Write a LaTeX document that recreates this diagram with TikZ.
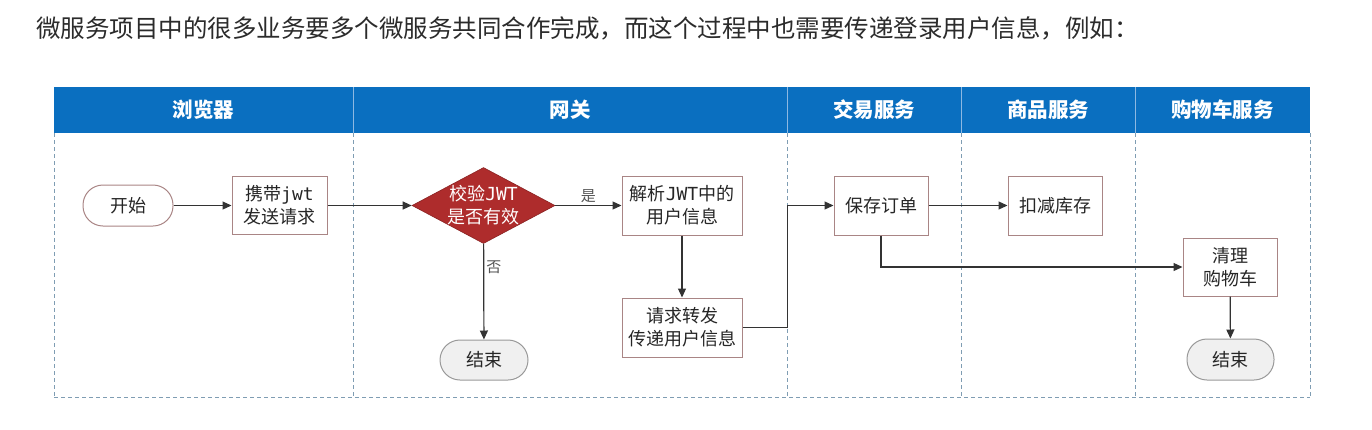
\documentclass[tikz,border=0pt]{standalone}
\usepackage{fontspec}
\setmainfont{Noto Sans CJK SC}
\newfontfamily\monof{DejaVu Sans Mono}
\usetikzlibrary{arrows.meta,shapes.geometric}
\definecolor{hdrblue}{HTML}{0A6FC0}
\definecolor{hdrline}{HTML}{8DB8E2}
\definecolor{lanec}{HTML}{7F9DB3}
\definecolor{boxc}{HTML}{A98585}
\definecolor{linec}{HTML}{333333}
\definecolor{chkred}{HTML}{AE2C2C}
\definecolor{titlec}{HTML}{2B2B2B}
\definecolor{lblc}{HTML}{555555}
\begin{document}
\begin{tikzpicture}[x=1pt,y=-1pt,
  lane/.style={draw=lanec, line width=1pt, dash pattern=on 4pt off 3pt},
  hdrsep/.style={draw=hdrline, line width=1pt},
  hdrtext/.style={text=white, font=\fontsize{20.5}{24}\selectfont\bfseries},
  nodetext/.style={font=\fontsize{18}{23}\selectfont, text=black!85, align=center, inner sep=0pt},
  box/.style={nodetext, draw=boxc, line width=1pt, fill=white, rectangle},
  startend/.style={nodetext, draw=boxc, line width=1pt, fill=white, rounded corners=20pt},
  endnode/.style={nodetext, draw=gray!80, line width=1pt, fill=black!6, rounded corners=20pt},
  conn/.style={draw=linec, line width=1.2pt, -{Triangle[length=9pt,width=8pt]}},
  lbl/.style={font=\fontsize{15}{18}\selectfont, text=lblc, inner sep=2pt}
]
\useasboundingbox (0,0) rectangle (1372,429);

% title
\node[anchor=west, inner sep=0pt, text=titlec, font=\fontsize{24.5}{30}\selectfont] (title) at (36,28)
  {微服务项目中的很多业务要多个微服务共同合作完成，而这个过程中也需要传递登录用户信息，例如：};

% header band
\fill[hdrblue] (54,87) rectangle (1310,133);
\foreach \x in {353,787,961,1135} \draw[hdrsep] (\x,87) -- (\x,133);
\node[hdrtext] (h1) at (203.5,110) {浏览器};
\node[hdrtext] (h2) at (570,110) {网关};
\node[hdrtext] (h3) at (874,110) {交易服务};
\node[hdrtext] (h4) at (1048,110) {商品服务};
\node[hdrtext] (h5) at (1222.5,110) {购物车服务};

% lanes
\foreach \x in {54,353,787,961,1135,1310} \draw[lane] (\x,133) -- (\x,397);
\draw[lane] (54,397) -- (1310,397);

% nodes
\node[startend, minimum width=90pt, minimum height=41pt] (start) at (128,205.5) {开始};
\node[box, minimum width=95pt, minimum height=58pt] (send) at (279.5,205.5) {携带{\monof jwt}\\发送请求};
\node[diamond, fill=chkred, draw=chkred!80!black, line width=0.6pt, minimum width=143pt, minimum height=76pt, inner sep=0pt] (chk) at (483.5,205.5) {};
\node[nodetext, text=white] (chkt) at (chk.center) {校验{\monof JWT}\\是否有效};
\node[box, minimum width=120pt, minimum height=59pt] (parse) at (682,205.5) {解析{\monof JWT}中的\\用户信息};
\node[box, minimum width=120pt, minimum height=59pt] (fwd) at (682,327.5) {请求转发\\传递用户信息};
\node[endnode, minimum width=88pt, minimum height=40pt] (end1) at (484,360) {结束};
\node[box, minimum width=94pt, minimum height=59pt] (save) at (881,205.5) {保存订单};
\node[box, minimum width=94pt, minimum height=59pt] (stock) at (1055,205.5) {扣减库存};
\node[box, minimum width=94pt, minimum height=58pt] (cart) at (1230,267) {清理\\购物车};
\node[endnode, minimum width=87pt, minimum height=41pt] (end2) at (1230.5,359.5) {结束};

\coordinate (j1) at (787.5,327.5);

% connectors
\draw[conn] (start) -- (send);
\draw[conn] (send) -- (chk);
\draw[conn] (chk) -- node[lbl, above, pos=0.5] (yes) {是} (parse);
\draw[conn] (chk) -- node[lbl, right, pos=0.24] (no) {否} (end1);
\draw[conn] (parse) -- (fwd);
\draw[conn] (fwd.east) -- (j1) |- (save.west);
\draw[conn] (save) -- (stock);
\draw[conn] (save.south) |- (cart.west);
\draw[conn] (cart) -- (end2);
\end{tikzpicture}
\end{document}
